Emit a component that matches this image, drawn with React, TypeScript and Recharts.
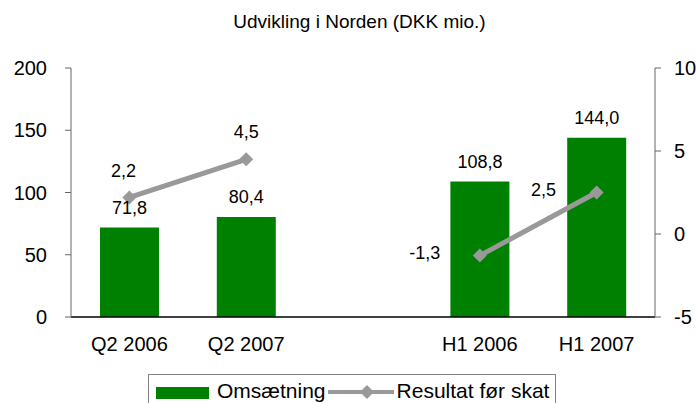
import { ComposedChart, Bar, Line, XAxis, YAxis, LabelList } from 'recharts'

const categories = ['Q2 2006', 'Q2 2007', '', 'H1 2006', 'H1 2007']
const omsaetning = [71.8, 80.4, null, 108.8, 144.0]
const resultat = [2.2, 4.5, null, -1.3, 2.5]
const leftTicks = [0, 50, 100, 150, 200]
const rightTicks = [-5, 0, 5, 10]

const GREEN = '#008000'
const GRAY = '#999999'
const FONT = '"Liberation Sans", Arial, sans-serif'

// label placement for the line values, by point
const lineLabelOffsets = [
  { dx: -6, dy: -26 },
  { dx: 0, dy: -27 },
  { dx: -55, dy: -3 },
  { dx: -53, dy: -3 },
]

const data = categories.map((c, i) => ({
  name: c,
  omsaetning: omsaetning[i],
  resultat: resultat[i],
}))

const fmt = (v: any) => (v == null ? '' : Number(v).toFixed(1).replace('.', ','))

function Diamond(props: any) {
  const { cx, cy } = props
  if (cx == null || cy == null || props.value == null) return null
  const r = 7
  return <path d={`M${cx},${cy - r}L${cx + r},${cy}L${cx},${cy + r}L${cx - r},${cy}Z`} fill={GRAY} />
}

function LineLabel(props: any) {
  const { x, y, value, index } = props
  if (value == null) return null
  const idx = categories.slice(0, index).filter((c) => c !== '').length
  const o = lineLabelOffsets[idx] || { dx: 0, dy: -20 }
  return (
    <text x={x + o.dx} y={y + o.dy} textAnchor="middle" dominantBaseline="central" fontSize={18} fill="#000" fontFamily={FONT}>
      {fmt(value)}
    </text>
  )
}

export default function App() {
  return (
    <div style={{ position: 'absolute', left: 0, top: 0, width: 696, height: 403, background: '#fff', fontFamily: FONT, overflow: 'hidden' }}>
      <div style={{ position: 'absolute', top: 11, left: 213, width: 293, textAlign: 'center', fontSize: 19, lineHeight: '22px', color: '#000', whiteSpace: 'nowrap' }}>
        Udvikling i Norden (DKK mio.)
      </div>
      <ComposedChart
        width={696}
        height={403}
        data={data}
        margin={{ top: 68, right: 0, left: 0, bottom: 40 }}
      >
        <XAxis
          dataKey="name"
          tickLine={false}
          axisLine={{ stroke: '#000', strokeWidth: 1.5 }}
          tick={{ fill: '#000', fontSize: 20, fontFamily: FONT }}
          tickMargin={14}
          height={46}
          interval={0}
        />
        <YAxis
          yAxisId="left"
          domain={[0, 200]}
          ticks={leftTicks}
          width={71}
          axisLine={{ stroke: '#666' }}
          tickLine={{ stroke: '#666' }}
          tickSize={6}
          tickMargin={18}
          tick={{ fill: '#000', fontSize: 20, fontFamily: FONT }}
        />
        <YAxis
          yAxisId="right"
          orientation="right"
          domain={[-5, 10]}
          ticks={rightTicks}
          width={41}
          axisLine={{ stroke: '#666' }}
          tickLine={{ stroke: '#666' }}
          tickSize={6}
          tickMargin={13}
          tick={{ fill: '#000', fontSize: 20, fontFamily: FONT }}
        />
        <Bar yAxisId="left" dataKey="omsaetning" fill={GREEN} barSize={59} isAnimationActive={false}>
          <LabelList dataKey="omsaetning" position="top" offset={14} formatter={fmt} style={{ fill: '#000', fontSize: 18, fontFamily: FONT }} />
        </Bar>
        <Line
          yAxisId="right"
          dataKey="resultat"
          stroke={GRAY}
          strokeWidth={5}
          dot={<Diamond />}
          activeDot={false}
          isAnimationActive={false}
        >
          <LabelList dataKey="resultat" content={<LineLabel />} />
        </Line>
      </ComposedChart>
      <div
        style={{
          position: 'absolute',
          left: 148,
          top: 374,
          width: 408,
          height: 40,
          border: '1px solid #808080',
          display: 'flex',
          alignItems: 'flex-start',
          paddingTop: 4,
          boxSizing: 'border-box',
          fontSize: 21,
          lineHeight: '24px',
          color: '#000',
          whiteSpace: 'nowrap',
        }}
      >
        <span style={{ display: 'inline-block', width: 53, height: 12, background: GREEN, marginLeft: 7, marginTop: 8, marginRight: 8 }} />
        <span>Omsætning</span>
        <svg width={66} height={24} style={{ marginLeft: 2, marginRight: 3 }}>
          <line x1={0} y1={13} x2={66} y2={13} stroke={GRAY} strokeWidth={4} />
          <path d="M39,6L46,13L39,20L32,13Z" fill={GRAY} />
        </svg>
        <span>Resultat før skat</span>
      </div>
    </div>
  )
}
